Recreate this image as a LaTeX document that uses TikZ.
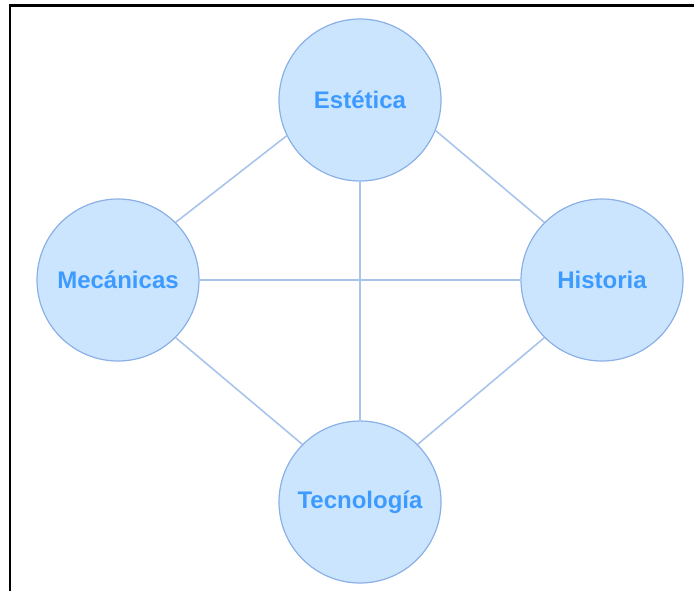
\documentclass[tikz,border=0pt]{standalone}
\usepackage{fontspec}
\setmainfont{Liberation Sans}
\usepackage{xcolor}
\usetikzlibrary{positioning}
\definecolor{bubblefill}{HTML}{CCE5FF}
\definecolor{bubbleline}{HTML}{8AB0E6}
\definecolor{linkline}{HTML}{A9C4EB}
\definecolor{bubbletext}{HTML}{3D9BFF}

\begin{document}
\begin{tikzpicture}[x=0.5pt, y=-0.5pt,
  topic/.style={circle, draw=bubbleline, fill=bubblefill, line width=0.6pt,
    minimum size=81pt, inner sep=0pt, text=bubbletext,
    font=\fontsize{12}{14}\selectfont\bfseries},
  link/.style={draw=linkline, line width=0.8pt}]
\useasboundingbox (0,0) rectangle (694,591);
% marco recortado
\draw[line width=1.3pt] (10,591)--(10,5.5)--(694,5.5);
\node[topic] (estetica) at (360,100) {Estética};
\node[topic] (mecanicas) at (118,280) {Mecánicas};
\node[topic] (historia) at (602,280) {Historia};
\node[topic] (tecnologia) at (360,502) {Tecnología};
\draw[link] (estetica.206)--(mecanicas.45);
\draw[link] (estetica.338)--(historia.135);
\draw[link] (estetica.south)--(tecnologia.north);
\draw[link] (mecanicas.east)--(historia.west);
\draw[link] (mecanicas.315)--(tecnologia.135);
\draw[link] (historia.225)--(tecnologia.45);
\end{tikzpicture}
\end{document}
